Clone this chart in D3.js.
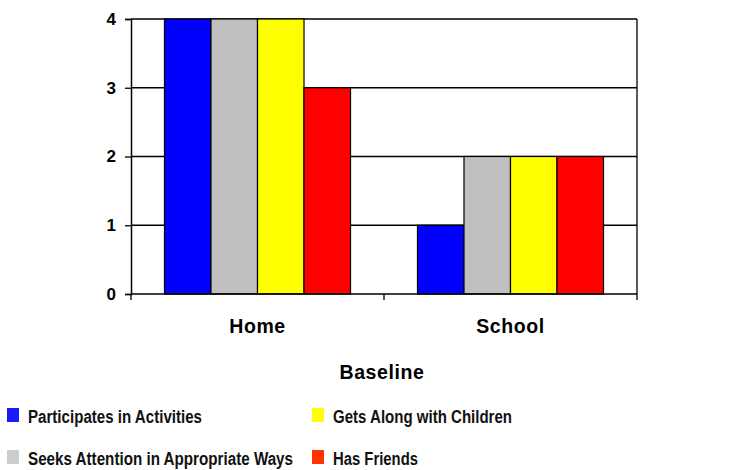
<!DOCTYPE html>
<html><head><meta charset="utf-8">
<script src="https://cdn.jsdelivr.net/npm/d3@7"></script>
<style>body{margin:0;background:#fff;}</style>
</head><body>
<svg id="chart" width="736" height="470"></svg>
<script>
const categories = ["Home", "School"];
const seriesNames = ["Participates in Activities", "Seeks Attention in Appropriate Ways", "Gets Along with Children", "Has Friends"];
const participates = [4, 1];
const seeksAttention = [4, 2];
const getsAlong = [4, 2];
const hasFriends = [3, 2];
const yTicks = [0, 1, 2, 3, 4];
const xTitle = "Baseline";

const seriesValues = [participates, seeksAttention, getsAlong, hasFriends];
const barColors = ["#0000ff", "#c0c0c0", "#ffff00", "#ff0000"];
const legendColors = ["#1a1aff", "#cccccc", "#ffff00", "#ff3300"];

const svg = d3.select("#chart");
const L = 131, R = 637, T = 19, B = 294;
const font = "'Liberation Sans', Arial, sans-serif";

const x0 = d3.scaleBand().domain(categories).range([L, R]).padding(0);
const x1 = d3.scaleBand().domain(d3.range(seriesNames.length)).range([0, x0.bandwidth()]).paddingInner(0).paddingOuter(0.72);
const y = d3.scaleLinear().domain([0, 4]).range([B, T]);

// gridlines
svg.append("g").selectAll("line").data(yTicks.filter(d => d > 0)).join("line")
  .attr("x1", L).attr("x2", R).attr("y1", d => y(d)).attr("y2", d => y(d))
  .attr("stroke", "#000").attr("stroke-width", 1.3);
// right border
svg.append("line").attr("x1", R).attr("x2", R).attr("y1", T).attr("y2", B)
  .attr("stroke", "#000").attr("stroke-width", 1.3);

// bars
const groups = svg.append("g").selectAll("g").data(categories).join("g")
  .attr("transform", c => `translate(${x0(c)},0)`);
groups.selectAll("rect").data((c, ci) => seriesValues.map((s, si) => ({si, v: s[ci]}))).join("rect")
  .attr("x", d => x1(d.si)).attr("width", x1.bandwidth())
  .attr("y", d => y(d.v)).attr("height", d => y(0) - y(d.v))
  .attr("fill", d => barColors[d.si]).attr("stroke", "#000").attr("stroke-width", 1.2);

// y axis
const yAxis = svg.append("g").attr("transform", `translate(${L},0)`)
  .call(d3.axisLeft(y).tickValues(yTicks).tickFormat(d3.format("d")).tickSize(6).tickPadding(9));
yAxis.select(".domain").attr("stroke", "#000").attr("stroke-width", 1.5);
yAxis.selectAll(".tick line").attr("stroke", "#000").attr("stroke-width", 1.3);
yAxis.selectAll("text").attr("font-family", font).attr("font-weight", "bold").attr("font-size", 17).attr("fill", "#000");

// x axis
const xAxis = svg.append("g").attr("transform", `translate(0,${B})`)
  .call(d3.axisBottom(x0).tickSize(0).tickPadding(0));
xAxis.select(".domain").attr("stroke", "#000").attr("stroke-width", 1.5).attr("d", `M${L},0H${R}`);
xAxis.selectAll("text").attr("font-family", font).attr("font-weight", "bold").attr("font-size", 19.5)
  .attr("letter-spacing", 0.6).attr("fill", "#000").attr("dy", 0).attr("y", 38.5);
// category boundary ticks
const bounds = [L, ...categories.map(c => x0(c) + x0.bandwidth())];
xAxis.append("g").selectAll("line").data(bounds).join("line")
  .attr("x1", d => d).attr("x2", d => d).attr("y1", 0).attr("y2", 6)
  .attr("stroke", "#000").attr("stroke-width", 1.3);

// x title
svg.append("text").attr("x", (L + R) / 2 - 2).attr("y", 378.5).attr("text-anchor", "middle")
  .attr("font-family", font).attr("font-weight", "bold").attr("font-size", 19.5)
  .attr("letter-spacing", 0.6).text(xTitle);

// legend
const legendPos = [[7, 423], [7, 465], [312, 423], [312, 465]];
const legendW = [174, 265, 179, 85];
const lg = svg.append("g").selectAll("g").data(seriesNames).join("g")
  .attr("transform", (d, i) => `translate(${legendPos[i][0]},${legendPos[i][1]})`);
lg.append("rect").attr("x", 0).attr("y", -15).attr("width", 12).attr("height", 14)
  .attr("fill", (d, i) => legendColors[i]);
lg.append("text").attr("x", 21).attr("y", 0)
  .attr("font-family", "'Liberation Sans Narrow', 'Liberation Sans', Arial, sans-serif")
  .attr("font-weight", "bold").attr("font-size", 18).attr("fill", "#111")
  .attr("textLength", (d, i) => legendW[i]).attr("lengthAdjust", "spacingAndGlyphs")
  .text(d => d);
</script>
</body></html>
